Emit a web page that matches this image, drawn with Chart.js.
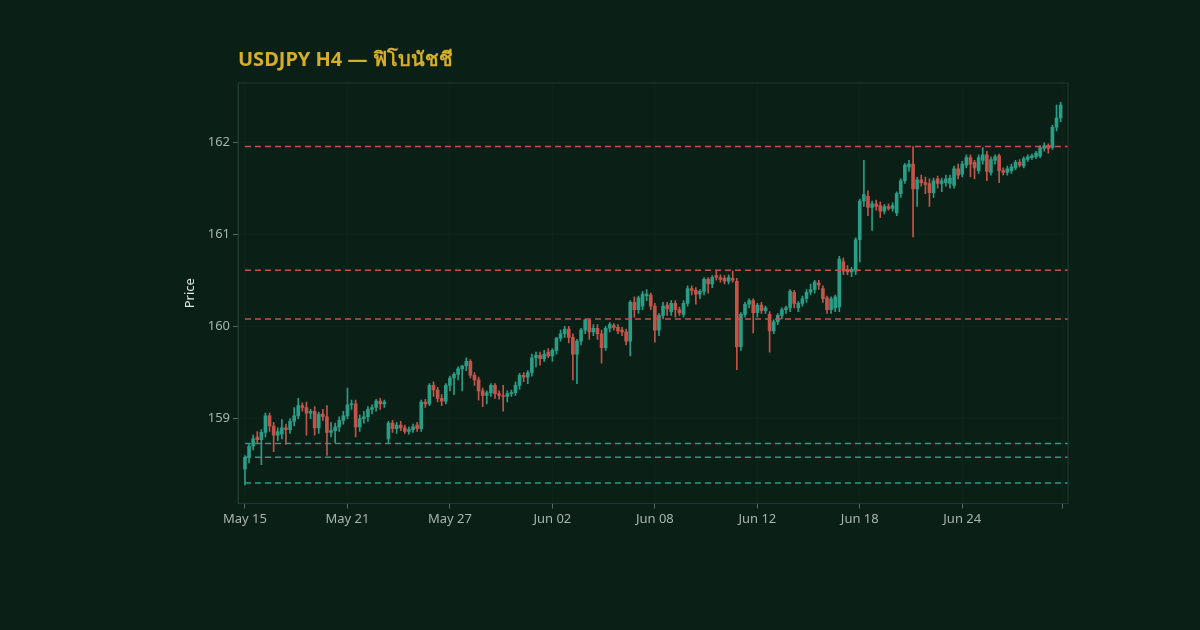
<!DOCTYPE html>
<html>
<head>
<meta charset="utf-8">
<script src="https://cdn.jsdelivr.net/npm/chart.js@4/dist/chart.umd.min.js"></script>
<style>
  html, body { margin: 0; padding: 0; background: #0a1f16; }
  #wrap { width: 1200px; height: 630px; }
</style>
</head>
<body>
<div id="wrap"><canvas id="myChart" width="1200" height="630"></canvas></div>
<script>
// H4 candles [open, high, low, close]
const candles = [
  [158.45,158.60,158.28,158.58],[158.58,158.72,158.52,158.70],[158.70,158.82,158.66,158.78],[158.80,158.86,158.74,158.77],
  [158.77,158.88,158.50,158.85],[158.85,159.06,158.80,159.03],[159.03,159.06,158.86,158.92],[158.92,158.96,158.64,158.82],
  [158.82,158.90,158.76,158.86],[158.83,158.99,158.78,158.90],[158.90,158.94,158.72,158.88],[158.88,159.00,158.84,158.97],
  [158.97,159.12,158.92,159.03],[159.03,159.22,159.00,159.14],[159.14,159.17,159.08,159.12],[159.12,159.18,158.82,159.06],
  [159.06,159.10,159.00,159.08],[159.08,159.13,158.82,158.90],[158.90,159.07,158.84,159.05],[159.05,159.10,158.98,159.02],
  [159.02,159.14,158.60,158.85],[158.85,158.96,158.80,158.87],[158.87,158.95,158.74,158.91],[158.91,159.02,158.86,158.98],
  [158.98,159.08,158.94,159.03],[159.03,159.33,159.00,159.15],[159.15,159.20,159.10,159.16],[159.16,159.20,158.80,158.91],
  [158.91,159.04,158.86,159.00],[159.00,159.08,158.95,159.02],[159.02,159.13,158.97,159.10],[159.10,159.15,159.05,159.12],
  [159.12,159.21,159.08,159.19],[159.19,159.22,159.10,159.16],[159.16,159.20,159.12,159.18],[158.78,158.97,158.74,158.95],
  [158.95,158.98,158.85,158.89],[158.89,158.96,158.84,158.93],[158.93,158.97,158.87,158.90],[158.90,158.93,158.84,158.86],
  [158.86,158.91,158.83,158.88],[158.88,158.94,158.85,158.91],[158.93,158.96,158.86,158.89],[158.89,159.20,158.86,159.18],
  [159.18,159.21,159.12,159.16],[159.16,159.38,159.14,159.36],[159.36,159.40,159.24,159.31],[159.31,159.34,159.18,159.22],
  [159.22,159.26,159.14,159.19],[159.19,159.38,159.16,159.36],[159.36,159.46,159.30,159.44],[159.44,159.50,159.26,159.48],
  [159.48,159.56,159.42,159.54],[159.54,159.58,159.30,159.57],[159.57,159.66,159.52,159.62],[159.62,159.64,159.44,159.47],
  [159.47,159.50,159.36,159.42],[159.42,159.45,159.20,159.30],[159.30,159.33,159.13,159.25],[159.25,159.30,159.16,159.28],
  [159.28,159.38,159.24,159.36],[159.36,159.38,159.22,159.27],[159.27,159.30,159.21,159.25],[159.25,159.36,159.08,159.24],
  [159.24,159.30,159.18,159.27],[159.27,159.31,159.24,159.28],[159.28,159.40,159.25,159.36],[159.36,159.49,159.32,159.47],
  [159.47,159.50,159.40,159.45],[159.45,159.52,159.38,159.50],[159.50,159.70,159.46,159.66],[159.66,159.72,159.56,159.69],
  [159.69,159.72,159.58,159.65],[159.65,159.74,159.62,159.70],[159.72,159.76,159.66,159.68],[159.68,159.76,159.62,159.74],
  [159.74,159.88,159.70,159.87],[159.87,159.96,159.84,159.92],[159.92,160.00,159.88,159.97],[159.97,160.00,159.82,159.88],
  [159.88,159.92,159.42,159.70],[159.70,159.86,159.38,159.84],[159.84,159.98,159.80,159.96],[159.96,160.08,159.92,160.07],
  [160.07,160.08,159.86,159.94],[159.94,160.02,159.90,159.98],[159.98,160.02,159.86,159.92],[159.92,159.96,159.60,159.77],
  [159.77,160.00,159.74,159.98],[159.98,160.04,159.94,160.02],[160.01,160.03,159.96,159.99],[159.99,160.02,159.92,159.95],
  [159.96,159.99,159.90,159.94],[159.94,159.97,159.80,159.84],[159.84,160.28,159.68,160.26],[160.26,160.32,160.10,160.18],
  [160.18,160.33,160.14,160.31],[160.22,160.38,160.18,160.35],[160.33,160.40,160.28,160.35],[160.34,160.36,160.18,160.22],
  [160.22,160.25,159.83,159.96],[159.96,160.14,159.90,160.12],[160.12,160.26,160.08,160.22],[160.23,160.26,160.12,160.19],
  [160.16,160.28,160.12,160.25],[160.25,160.28,160.10,160.18],[160.18,160.21,160.12,160.15],[160.13,160.28,160.10,160.25],
  [160.25,160.44,160.22,160.41],[160.41,160.44,160.34,160.39],[160.39,160.42,160.24,160.35],[160.35,160.40,160.30,160.38],
  [160.38,160.53,160.34,160.51],[160.51,160.53,160.36,160.46],[160.46,160.55,160.42,160.53],[160.55,160.60,160.50,160.53],
  [160.53,160.56,160.48,160.51],[160.52,160.55,160.46,160.49],[160.49,160.56,160.46,160.53],[160.52,160.60,160.48,160.50],
  [160.49,160.52,159.53,159.78],[159.78,160.15,159.74,160.13],[160.13,160.26,160.10,160.24],[160.24,160.30,160.20,160.28],
  [160.28,160.30,159.93,160.15],[160.15,160.25,160.10,160.23],[160.23,160.26,160.14,160.17],[160.17,160.22,160.14,160.20],
  [160.13,160.16,159.72,159.95],[159.95,160.07,159.92,160.05],[160.05,160.14,160.02,160.12],[160.12,160.20,160.08,160.18],
  [160.18,160.22,160.14,160.20],[160.20,160.40,160.16,160.38],[160.37,160.39,160.20,160.25],[160.20,160.27,160.16,160.25],
  [160.25,160.33,160.22,160.30],[160.30,160.40,160.26,160.37],[160.37,160.46,160.34,160.40],[160.40,160.50,160.36,160.48],
  [160.47,160.50,160.40,160.45],[160.41,160.44,160.26,160.30],[160.31,160.33,160.14,160.18],[160.18,160.32,160.14,160.30],
  [160.20,160.34,160.16,160.32],[160.21,160.76,160.16,160.73],[160.70,160.74,160.56,160.60],[160.62,160.66,160.56,160.59],
  [160.59,160.64,160.54,160.62],[160.60,160.96,160.56,160.94],[160.94,161.38,160.70,161.36],[161.36,161.80,161.30,161.43],
  [161.41,161.47,161.20,161.29],[161.29,161.36,161.04,161.33],[161.33,161.37,161.26,161.30],[161.31,161.35,161.18,161.25],
  [161.25,161.32,161.22,161.30],[161.30,161.33,161.26,161.28],[161.28,161.34,161.25,161.31],[161.23,161.46,161.20,161.44],
  [161.44,161.60,161.40,161.58],[161.58,161.77,161.55,161.75],[161.73,161.80,161.68,161.76],[161.76,161.95,160.97,161.49],
  [161.49,161.62,161.30,161.59],[161.59,161.64,161.52,161.56],[161.56,161.62,161.44,161.54],[161.55,161.60,161.30,161.45],
  [161.45,161.61,161.40,161.58],[161.60,161.63,161.50,161.55],[161.55,161.61,161.46,161.58],[161.56,161.64,161.52,161.60],
  [161.55,161.64,161.50,161.61],[161.53,161.74,161.50,161.71],[161.71,161.76,161.60,161.64],[161.65,161.79,161.62,161.76],
  [161.75,161.86,161.72,161.83],[161.83,161.86,161.62,161.76],[161.78,161.80,161.60,161.72],[161.69,161.86,161.66,161.83],
  [161.80,161.94,161.76,161.86],[161.86,161.90,161.58,161.68],[161.67,161.84,161.64,161.81],[161.80,161.86,161.76,161.84],
  [161.85,161.87,161.56,161.69],[161.69,161.72,161.64,161.67],[161.67,161.74,161.64,161.71],[161.69,161.76,161.66,161.73],
  [161.72,161.80,161.70,161.78],[161.78,161.81,161.73,161.75],[161.74,161.84,161.72,161.82],[161.81,161.86,161.79,161.84],
  [161.83,161.87,161.81,161.85],[161.84,161.90,161.82,161.88],[161.85,161.96,161.83,161.94],[161.93,161.99,161.90,161.96],
  [161.96,161.98,161.88,161.93],[161.94,162.18,161.92,162.16],[162.16,162.40,162.12,162.26],[162.26,162.43,162.22,162.40]
];

const tickLabels = ['May 15', 'May 21', 'May 27', 'Jun 02', 'Jun 08', 'Jun 12', 'Jun 18', 'Jun 24'];
const tickIndexes = [0, 25, 50, 75, 100, 125, 150, 175];
const yTicks = [159, 160, 161, 162];
const resistanceLevels = [161.95, 160.61, 160.08];
const supportLevels = [158.73, 158.58, 158.30];

const UP = '#2a9d86';
const DOWN = '#c4544a';

function candleColor(c) {
  return c[3] >= c[0] ? UP : DOWN;
}

function levelDataset(level, color) {
  return {
    type: 'line',
    data: [{ x: 0, y: level }, { x: 200.8, y: level }],
    borderColor: color,
    borderWidth: 1.5,
    borderDash: [6, 4],
    pointRadius: 0,
    order: 0
  };
}

const titlePlugin = {
  id: 'titleLeft',
  afterDraw(chart) {
    const { ctx, chartArea } = chart;
    ctx.save();
    ctx.fillStyle = '#d4ae2c';
    ctx.font = 'bold 20px "Noto Sans", sans-serif';
    ctx.textBaseline = 'middle';
    ctx.fillText('USDJPY H4 — ฟิโบนัชชี', chartArea.left, 60);
    ctx.restore();
  }
};

new Chart(document.getElementById('myChart'), {
  type: 'bar',
  data: {
    datasets: [
      {
        data: candles.map((c, i) => ({ x: i, y: [c[2], c[1]] })),
        backgroundColor: candles.map(candleColor),
        barThickness: 1,
        grouped: false,
        order: 2
      },
      {
        data: candles.map((c, i) => ({ x: i, y: [c[0], c[3]] })),
        backgroundColor: candles.map(candleColor),
        barThickness: 3,
        minBarLength: 1,
        grouped: false,
        order: 1
      },
      ...resistanceLevels.map(l => levelDataset(l, '#c0564b')),
      ...supportLevels.map(l => levelDataset(l, '#2a9d86'))
    ]
  },
  options: {
    responsive: false,
    animation: false,
    layout: { padding: { top: 83, right: 132, bottom: 100, left: 178 } },
    plugins: { legend: { display: false }, tooltip: { enabled: false } },
    scales: {
      x: {
        type: 'linear',
        offset: false,
        min: -1.7,
        max: 200.8,
        afterBuildTicks: axis => {
          axis.ticks = tickIndexes.map(v => ({ value: v })).concat([{ value: 199.5 }]);
        },
        ticks: {
          color: '#a9b5b0',
          font: { size: 13, family: '"Noto Sans", sans-serif' },
          autoSkip: false,
          maxRotation: 0,
          callback: v => {
            const k = tickIndexes.indexOf(v);
            return k >= 0 ? tickLabels[k] : '';
          }
        },
        grid: { offset: false, color: 'rgba(255,255,255,0.02)', tickColor: '#5a6a64', tickLength: 5 },
        border: { color: '#1f3a33' }
      },
      y: {
        min: 158.08,
        max: 162.64,
        afterBuildTicks: axis => {
          axis.ticks = yTicks.map(v => ({ value: v }));
        },
        afterFit: axis => { axis.width = 60; },
        ticks: {
          color: '#a9b5b0',
          font: { size: 13, family: '"Noto Sans", sans-serif' }
        },
        title: {
          display: true,
          text: 'Price',
          color: '#e0e6e3',
          font: { size: 13, family: '"Noto Sans", sans-serif' }
        },
        grid: { color: 'rgba(255,255,255,0.02)', tickColor: '#5a6a64', tickLength: 5 },
        border: { color: '#1f3a33' }
      }
    }
  },
  plugins: [titlePlugin, {
    id: 'frame',
    afterDraw(chart) {
      const { ctx, chartArea: a } = chart;
      ctx.save();
      ctx.strokeStyle = '#1f3a33';
      ctx.lineWidth = 1;
      ctx.strokeRect(a.left, a.top, a.right - a.left, a.bottom - a.top);
      ctx.restore();
    }
  }]
});
</script>
</body>
</html>
